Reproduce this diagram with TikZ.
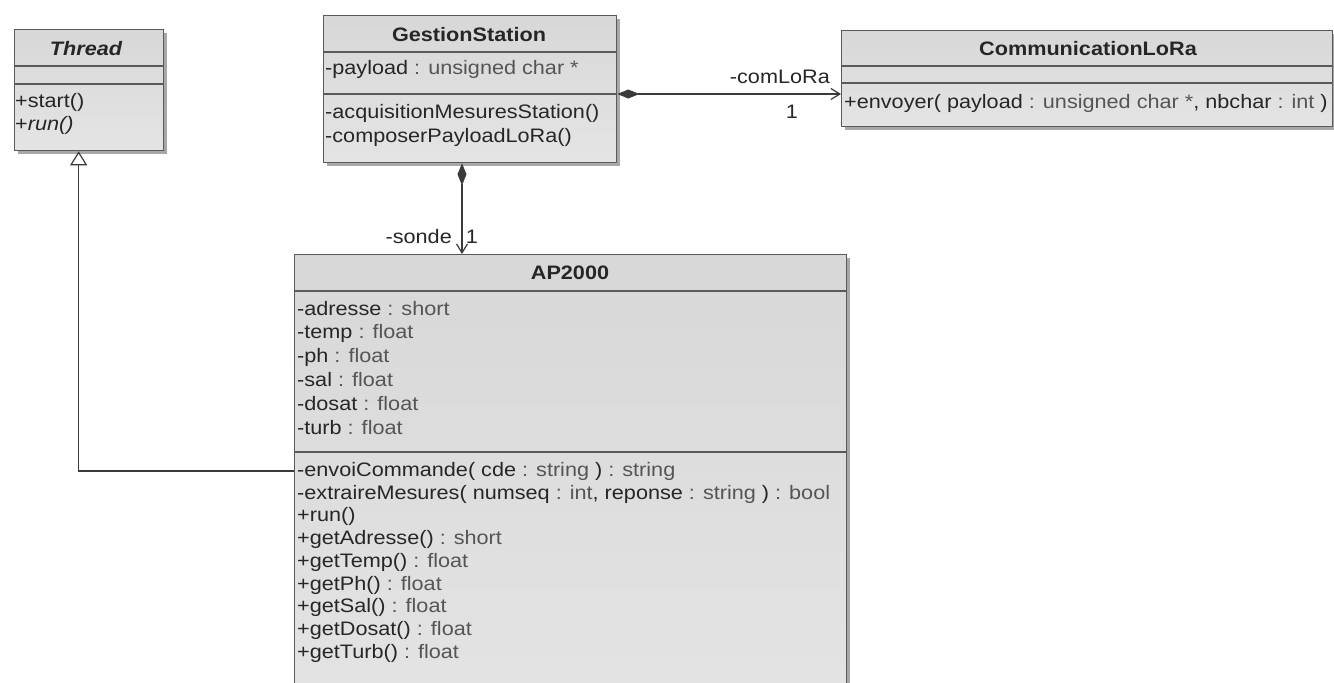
\documentclass[tikz,border=0pt]{standalone}
\usepackage{fontspec}
\setmainfont[FakeStretch=1.11]{Liberation Sans}
\usetikzlibrary{arrows.meta,shadows}
\definecolor{bordc}{HTML}{5A5A5A}
\definecolor{txtc}{HTML}{262626}
\definecolor{typc}{HTML}{555555}
\definecolor{linec}{HTML}{3A3A3A}
\definecolor{shadc}{HTML}{A8A8A8}
\newcommand\umltype[1]{\textcolor{typc}{#1}}
\begin{document}
\begin{tikzpicture}[x=1pt,y=-1pt,
  classbox/.style={draw=bordc, line width=1.3pt, top color=gray!31, bottom color=gray!21,
    anchor=north west, inner sep=0pt,
    drop shadow={shadow xshift=3.5pt, shadow yshift=-3.5pt, fill=shadc, opacity=1}},
  divider/.style={draw=bordc, line width=1.3pt},
  txt/.style={anchor=base west, inner sep=0pt, text=txtc, font=\fontsize{19.5}{23}\selectfont},
  ttl/.style={anchor=base, inner sep=0pt, text=txtc, font=\fontsize{19.5}{23}\selectfont\bfseries},
  lbl/.style={inner sep=0pt, text=txtc, font=\fontsize{19.5}{23}\selectfont},
  conn/.style={draw=linec, line width=1.2pt},
  inherit/.style={conn, -{Triangle[open, length=14pt, width=17pt, fill=white]}},
  compo/.style={conn, {Diamond[length=22pt, width=9pt, fill=linec]}-{Straight Barb[length=9pt, width=11pt]}}
]
\useasboundingbox (0,0) rectangle (1334,683);
\fill[white] (0,0) rectangle (1334,683);
\clip (0,0) rectangle (1334,683);

% ---------- Thread ----------
\node[classbox, minimum width=149pt, minimum height=121pt] (thr) at (14,29) {};
\draw[divider] (thr.west |- 0,66) -- (thr.east |- 0,66);
\draw[divider] (thr.west |- 0,84) -- (thr.east |- 0,84);
\node[ttl, font=\fontsize{19.5}{23}\selectfont\bfseries\itshape] (thrt) at (86,55) {Thread};
\node[txt] (thro1) at (15,107) {+start()};
\node[txt] (thro2) at (15,130) {+\textit{run()}};

% ---------- GestionStation ----------
\node[classbox, minimum width=293pt, minimum height=147pt] (gs) at (323,15) {};
\draw[divider] (gs.west |- 0,52) -- (gs.east |- 0,52);
\draw[divider] (gs.west |- 0,94) -- (gs.east |- 0,94);
\node[ttl] (gst) at (469,41) {GestionStation};
\node[txt] (gsa1) at (325,74) {-payload \umltype{: unsigned char *}};
\node[txt] (gso1) at (325,118) {-acquisitionMesuresStation()};
\node[txt] (gso2) at (325,142) {-composerPayloadLoRa()};

% ---------- CommunicationLoRa ----------
\node[classbox, minimum width=491pt, minimum height=96pt] (cl) at (841,30) {};
\draw[divider] (cl.west |- 0,66) -- (cl.east |- 0,66);
\draw[divider] (cl.west |- 0,83) -- (cl.east |- 0,83);
\node[ttl] (clt) at (1088,55) {CommunicationLoRa};
\node[txt] (clo1) at (844,108) {+envoyer( payload \umltype{: unsigned char *}, nbchar \umltype{: int} )};

% ---------- AP2000 ----------
\node[classbox, minimum width=552pt, minimum height=470pt] (ap) at (294,254) {};
\draw[divider] (ap.west |- 0,291) -- (ap.east |- 0,291);
\draw[divider] (ap.west |- 0,452) -- (ap.east |- 0,452);
\node[ttl] (apt) at (570,279) {AP2000};
\foreach \t [count=\i] in {
  {-adresse \umltype{: short}},
  {-temp \umltype{: float}},
  {-ph \umltype{: float}},
  {-sal \umltype{: float}},
  {-dosat \umltype{: float}},
  {-turb \umltype{: float}}}
  \node[txt] (apa\i) at (297,{315+23.8*(\i-1)}) {\t};
\foreach \t [count=\i] in {
  {-envoiCommande( cde \umltype{: string} ) \umltype{: string}},
  {-extraireMesures( numseq \umltype{: int}, reponse \umltype{: string} ) \umltype{: bool}},
  {+run()},
  {+getAdresse() \umltype{: short}},
  {+getTemp() \umltype{: float}},
  {+getPh() \umltype{: float}},
  {+getSal() \umltype{: float}},
  {+getDosat() \umltype{: float}},
  {+getTurb() \umltype{: float}}}
  \node[txt] (apo\i) at (297,{476.5+22.7*(\i-1)}) {\t};

% ---------- connectors ----------
\draw[inherit] (ap.west |- 0,471) -| ([xshift=-10.5pt]thr.south);
\draw[compo] (gs.east |- 0,94) -- (cl.west |- 0,94);
\draw[compo] (gs.south -| 462,0) -- (ap.north -| 462,0);

\node[lbl, anchor=base east] (lcom) at (830,83) {-comLoRa};
\node[lbl, anchor=base] (lcom1) at (792,118) {1};
\node[lbl, anchor=base east] (lsonde) at (452,243) {-sonde};
\node[lbl, anchor=base] (lsonde1) at (472,243) {1};
\end{tikzpicture}
\end{document}
